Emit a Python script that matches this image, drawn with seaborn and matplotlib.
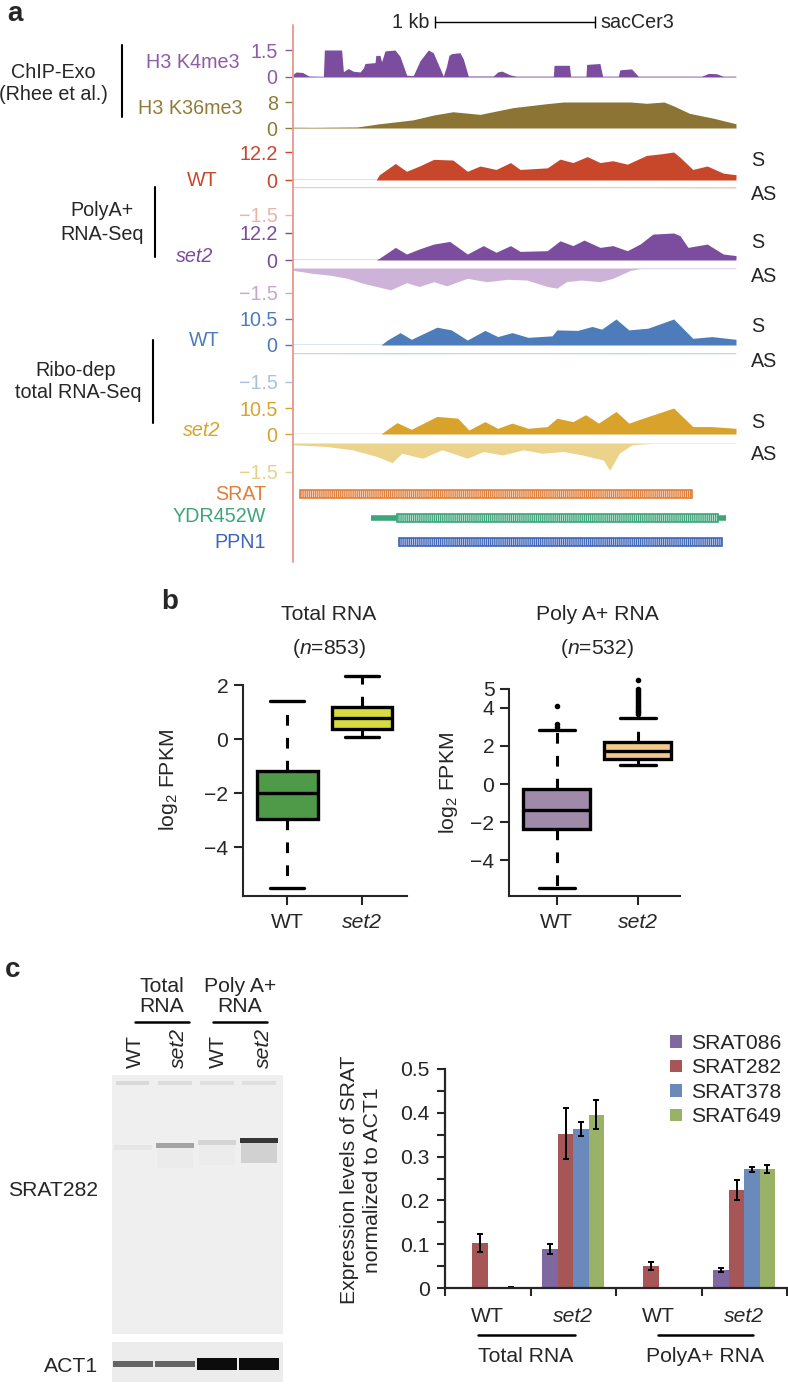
import numpy as np
import pandas as pd
import matplotlib
matplotlib.use("Agg")
import matplotlib.pyplot as plt
import seaborn as sns
from matplotlib.lines import Line2D

W, H = 788, 1385

# ---------------- panel a: browser tracks, (position kb, signal) ----------------
TRACK_KB = 2.77
SCALE_START_KB = 0.89

k4me3 = [(0.00, 0.15), (0.02, 0.28), (0.06, 0.25), (0.10, 0.05), (0.19, 0.03), (0.196, 1.5),
         (0.304, 1.5), (0.315, 0.3), (0.346, 0.47), (0.377, 0.32), (0.419, 0.28), (0.44, 0.5),
         (0.45, 0.75), (0.513, 0.8), (0.518, 1.2), (0.544, 1.2), (0.554, 0.85), (0.575, 1.45),
         (0.638, 1.5), (0.669, 1.15), (0.711, 0.1), (0.752, 0.08), (0.794, 0.9), (0.846, 1.5),
         (0.877, 1.35), (0.94, 0.05), (0.96, 0.6), (0.975, 1.2), (0.992, 1.3), (1.044, 1.35),
         (1.065, 1.0), (1.096, 0.05), (1.252, 0.05), (1.28, 0.28), (1.305, 0.33), (1.357, 0.12),
         (1.398, 0.04), (1.628, 0.04), (1.632, 0.65), (1.728, 0.65), (1.736, 0.04), (1.832, 0.04),
         (1.836, 0.7), (1.919, 0.75), (1.936, 0.04), (2.034, 0.04), (2.044, 0.4), (2.117, 0.45),
         (2.159, 0.04), (2.555, 0.04), (2.597, 0.2), (2.649, 0.18), (2.69, 0.04), (2.77, 0.04)]

k36me3 = [(0.00, 0.2), (0.13, 0.15), (0.40, 0.3), (0.54, 1.3), (0.75, 2.5), (0.88, 4.0),
          (1.00, 5.0), (1.17, 4.2), (1.38, 6.3), (1.59, 7.5), (1.69, 8.0), (2.11, 8.0),
          (2.21, 7.6), (2.32, 8.0), (2.38, 6.8), (2.48, 4.5), (2.63, 3.0), (2.77, 1.3)]

wt_polya_s = [(0.00, 0), (0.52, 0), (0.54, 2.3), (0.64, 7.2), (0.71, 3.8), (0.79, 6.1), (0.88, 9.0),
              (1.00, 8.7), (1.09, 3.8), (1.17, 6.1), (1.21, 5.5), (1.27, 4.6), (1.36, 7.6),
              (1.42, 4.6), (1.59, 5.3), (1.67, 9.1), (1.75, 7.6), (1.84, 10.2), (1.92, 7.6),
              (2.00, 8.4), (2.09, 6.9), (2.21, 10.7), (2.30, 11.4), (2.38, 12.2), (2.42, 9.9),
              (2.50, 4.6), (2.59, 6.1), (2.69, 3.0), (2.77, 2.3)]
wt_polya_as = [(0.00, -0.02), (0.60, -0.03), (1.20, -0.02), (2.00, -0.03), (2.77, -0.05)]

set2_polya_s = [(0.00, 0), (0.52, 0), (0.54, 0.8), (0.64, 5.7), (0.71, 2.7), (0.79, 5.0), (0.88, 7.2),
                (0.98, 8.4), (1.09, 2.7), (1.19, 6.5), (1.27, 3.5), (1.36, 6.5), (1.42, 3.9),
                (1.59, 4.2), (1.67, 8.7), (1.75, 6.5), (1.82, 9.0), (1.92, 5.7), (2.00, 6.5),
                (2.09, 4.2), (2.17, 7.2), (2.25, 11.7), (2.38, 12.2), (2.42, 11.0), (2.47, 5.7),
                (2.59, 7.2), (2.69, 2.7), (2.77, 2.0)]
set2_polya_as = [(0.00, -0.14), (0.13, -0.33), (0.23, -0.43), (0.34, -0.62), (0.44, -0.92),
                 (0.61, -1.31), (0.71, -0.88), (0.79, -1.11), (0.88, -0.82), (0.96, -1.07),
                 (1.09, -0.62), (1.21, -0.82), (1.34, -0.68), (1.46, -0.72), (1.59, -1.11),
                 (1.65, -1.21), (1.71, -0.82), (1.80, -0.72), (1.92, -0.82), (2.00, -0.62),
                 (2.11, -0.14), (2.17, -0.04), (2.77, -0.04)]

wt_ribo_s = [(0.00, 0), (0.55, 0), (0.59, 2.0), (0.67, 5.0), (0.74, 2.3), (0.90, 7.2), (0.99, 6.1),
             (1.09, 2.0), (1.20, 5.9), (1.28, 3.4), (1.37, 5.0), (1.47, 3.1), (1.62, 3.7),
             (1.65, 6.1), (1.78, 5.9), (1.87, 7.5), (1.93, 6.4), (2.02, 10.5), (2.10, 6.1),
             (2.22, 6.8), (2.38, 10.5), (2.50, 2.7), (2.62, 3.4), (2.77, 2.3)]
wt_ribo_as = [(0.00, -0.02), (0.65, -0.04), (1.30, -0.02), (2.05, -0.04), (2.77, -0.03)]

set2_ribo_s = [(0.00, 0), (0.55, 0), (0.65, 4.6), (0.74, 1.9), (0.90, 7.1), (1.03, 6.4), (1.10, 1.6),
               (1.20, 5.0), (1.28, 2.3), (1.37, 4.4), (1.47, 2.3), (1.59, 3.0), (1.65, 6.4),
               (1.75, 5.0), (1.83, 7.8), (1.91, 4.4), (2.02, 9.1), (2.10, 4.4), (2.19, 6.4),
               (2.38, 10.5), (2.50, 3.0), (2.62, 3.0), (2.77, 2.3)]
set2_ribo_as = [(0.00, -0.09), (0.21, -0.18), (0.37, -0.35), (0.53, -0.71), (0.62, -1.02),
                (0.68, -0.53), (0.81, -0.79), (0.93, -0.35), (1.00, -0.53), (1.09, -0.79),
                (1.19, -0.44), (1.31, -0.62), (1.44, -0.35), (1.56, -0.53), (1.69, -0.44),
                (1.81, -0.62), (1.94, -0.88), (1.98, -1.41), (2.04, -0.53), (2.12, -0.09),
                (2.24, -0.02), (2.77, -0.02)]

gene_names = ["SRAT", "YDR452W", "PPN1"]
gene_start = [0.044, 0.65, 0.66]
gene_end = [2.495, 2.66, 2.68]
utr_start = [None, 0.49, None]
utr_end = [None, 2.71, None]

# ---------------- panel b: box statistics ----------------
box_groups = ["WT", "set2"]
total_q1 = [-2.97, 0.39]
total_med = [-2.01, 0.79]
total_q3 = [-1.19, 1.20]
total_lo = [-5.53, 0.09]
total_hi = [1.41, 2.33]
polya_q1 = [-2.36, 1.31]
polya_med = [-1.36, 1.74]
polya_q3 = [-0.26, 2.21]
polya_lo = [-5.45, 0.99]
polya_hi = [2.83, 3.47]
polya_fliers = [[3.0, 3.14, 4.1],
                [3.65, 3.75, 3.85, 3.95, 4.05, 4.15, 4.25, 4.35, 4.45, 4.55, 4.65, 4.75, 4.85, 4.95, 5.45]]

# ---------------- panel c: northern blot + qPCR ----------------
lane_names = ["WT", "set2", "WT", "set2"]
well_level = [0.14, 0.12, 0.10, 0.10]
srat_band_pos = [72, 70, 67, 65]
srat_level = [0.06, 0.38, 0.16, 0.8]
smear_level = [0.0, 0.03, 0.02, 0.18]
act1_level = [0.62, 0.62, 0.95, 0.95]
act1_thick = [6, 6, 12, 12]

conditions = ["WT total", "set2 total", "WT polyA", "set2 polyA"]
cond_labels = ["WT", "set2", "WT", "set2"]
probes = ["SRAT086", "SRAT282", "SRAT378", "SRAT649"]
srat086 = [0.0, 0.089, 0.0, 0.041]
srat282 = [0.103, 0.352, 0.050, 0.224]
srat378 = [0.0, 0.363, 0.0, 0.271]
srat649 = [0.002, 0.396, 0.0, 0.271]
err086 = [0.0, 0.011, 0.0, 0.005]
err282 = [0.020, 0.058, 0.010, 0.023]
err378 = [0.0, 0.015, 0.0, 0.006]
err649 = [0.001, 0.034, 0.0, 0.009]

sns.set_style("ticks")
plt.rcParams["font.family"] = ["Liberation Sans", "DejaVu Sans"]
plt.rcParams["mathtext.fontset"] = "custom"
plt.rcParams["mathtext.rm"] = "Liberation Sans"
plt.rcParams["mathtext.it"] = "Liberation Sans:italic"
plt.rcParams["hatch.linewidth"] = 0.8

fig = plt.figure(figsize=(W / 100, H / 100), dpi=100)


def px_axes(x0, y0, x1, y1):
    return fig.add_axes([x0 / W, 1 - y1 / H, (x1 - x0) / W, (y1 - y0) / H])


def ftext(x, y, s, **kw):
    kw.setdefault("va", "center")
    return fig.text(x / W, 1 - y / H, s, **kw)


def fline(xs, ys, **kw):
    fig.add_artist(Line2D([x / W for x in xs], [1 - y / H for y in ys], **kw))


def tint(c, f):
    r, g, b = matplotlib.colors.to_rgb(c)
    return (1 - f * (1 - r), 1 - f * (1 - g), 1 - f * (1 - b))


TX0, TX1 = 293, 736
FS_A = 14.2


def track(y0, y1, pts, lim, color, ticks, labels, tick_color, line=True):
    ax = px_axes(TX0, y0, TX1, y1)
    x, v = zip(*pts)
    ax.fill_between(x, 0, v, color=color, lw=0)
    if line:
        ax.axhline(0, color=color, lw=1)
    ax.set_xlim(0, TRACK_KB)
    ax.set_ylim(*lim)
    ax.set_xticks([])
    ax.set_yticks(ticks, labels)
    ax.tick_params(axis="y", length=6, width=1, colors=tick_color, pad=5, labelsize=FS_A)
    for s in ax.spines.values():
        s.set_visible(False)
    ax.patch.set_alpha(0)
    return ax


PURPLE = "#7c4c9e"
OLIVE = "#8c7434"
RED = "#c8472b"
BLUE = "#4d7cba"
GOLD = "#d9a32b"

track(50, 77, k4me3, (0, 1.5), PURPLE, [0, 1.5], ["0", "1.5"], "#8e5ba9")
track(102, 128, k36me3, (0, 8), OLIVE, [0, 8], ["0", "8"], "#927b38")
track(152, 180, wt_polya_s, (0, 12.2), RED, [0, 12.2], ["0", "12.2"], RED)
track(187, 215, wt_polya_as, (-1.5, 0), "#f0c9c0", [-1.5], ["\u22121.5"], "#e8b5a8")
track(233, 260, set2_polya_s, (0, 12.2), PURPLE, [0, 12.2], ["0", "12.2"], PURPLE)
track(268, 293, set2_polya_as, (-1.5, 0), "#cdb3d8", [-1.5], ["\u22121.5"], "#c4a6cf", line=False)
track(319, 345, wt_ribo_s, (0, 10.5), BLUE, [0, 10.5], ["0", "10.5"], BLUE)
track(353, 382, wt_ribo_as, (-1.5, 0), "#c4d5ec", [-1.5], ["\u22121.5"], "#a9c1e0")
track(408, 434, set2_ribo_s, (0, 10.5), GOLD, [0, 10.5], ["0", "10.5"], GOLD)
track(443, 472, set2_ribo_as, (-1.5, 0), "#ebd38c", [-1.5], ["\u22121.5"], "#e8cf8a", line=False)

# genes
axg = px_axes(TX0, 482, TX1, 554)
gene_colors = ["#e07f3a", "#3da57a", "#3f64b8"]
ypos = np.arange(len(gene_names))
axg.barh(ypos, np.array(gene_end) - np.array(gene_start), left=gene_start, height=0.3,
         color=[tint(c, 0.35) for c in gene_colors], edgecolor=gene_colors,
         hatch="||||||||", lw=1.2)
for i in range(len(gene_names)):
    if utr_start[i] is not None:
        axg.plot([utr_start[i], gene_start[i]], [i, i], color=gene_colors[i], lw=4, solid_capstyle="butt")
        axg.plot([gene_end[i], utr_end[i]], [i, i], color=gene_colors[i], lw=4, solid_capstyle="butt")
axg.set_xlim(0, TRACK_KB)
axg.set_ylim(2.5, -0.5)
axg.axis("off")

# scale bar
axs = px_axes(TX0, 10, TX1, 34)
axs.set_xlim(0, TRACK_KB)
axs.set_ylim(0, 1)
axs.axis("off")
axs.plot([SCALE_START_KB, SCALE_START_KB + 1.0], [0.5, 0.5], color="k", lw=1,
         marker="|", ms=8, mew=1)
axs.text(SCALE_START_KB - 0.04, 0.5, "1 kb", ha="right", va="center", fontsize=FS_A)
axs.text(SCALE_START_KB + 1.03, 0.5, "sacCer3", ha="left", va="center", fontsize=FS_A)

fline([293, 293], [25, 562], color="#e9968c", lw=1.3)

ftext(7, 14, "a", fontsize=20, fontweight="bold", ha="left")
ftext(53, 72, "ChIP-Exo", ha="center", fontsize=FS_A)
ftext(53, 95, "(Rhee et al.)", ha="center", fontsize=FS_A)
fline([122, 122], [45, 117], color="k", lw=1.5)
ftext(240, 62, "H3 K4me3", ha="right", color="#8e5ba9", fontsize=FS_A)
ftext(243, 108, "H3 K36me3", ha="right", color="#927b38", fontsize=FS_A)
ftext(218, 181, "WT", ha="right", color=RED, fontsize=FS_A)
ftext(102, 210, "PolyA+", ha="center", fontsize=FS_A)
ftext(102, 235, "RNA-Seq", ha="center", fontsize=FS_A)
fline([155, 155], [187, 257], color="k", lw=1.5)
ftext(213, 257, "set2", ha="right", color=PURPLE, style="italic", fontsize=FS_A)
ftext(220, 340, "WT", ha="right", color=BLUE, fontsize=FS_A)
ftext(76, 370, "Ribo-dep", ha="center", fontsize=FS_A)
ftext(78, 393, "total RNA-Seq", ha="center", fontsize=FS_A)
fline([153, 153], [340, 423], color="k", lw=1.5)
ftext(220, 430, "set2", ha="right", color=GOLD, style="italic", fontsize=FS_A)
for nm, yy, c in zip(gene_names, [494, 517, 542], gene_colors):
    ftext(266, yy, nm, ha="right", color=c, fontsize=FS_A)
for lab, yy in zip(["S", "AS", "S", "AS", "S", "AS", "S", "AS"],
                   [160, 195, 243, 277, 327, 362, 422, 454]):
    ftext(751, yy, lab, ha="left", fontsize=FS_A)

# ---------------- panel b ----------------
FS_B = 15.2


def box_panel(ax, q1, med, q3, lo, hi, fliers, colors, width):
    stats = [dict(q1=a, med=b, q3=c, whislo=d, whishi=e, fliers=f)
             for a, b, c, d, e, f in zip(q1, med, q3, lo, hi, fliers)]
    art = ax.bxp(stats, positions=[1, 2], widths=width, capwidths=0.45, patch_artist=True,
                 boxprops=dict(lw=2.4, edgecolor="k"),
                 whiskerprops=dict(lw=2.2, color="k", linestyle=(0, (3.5, 4))),
                 capprops=dict(lw=2.4, color="k"),
                 medianprops=dict(lw=2.4, color="k"),
                 flierprops=dict(marker="o", ms=3, mfc="k", mec="k"),
                 manage_ticks=False)
    for p, c in zip(art["boxes"], colors):
        p.set_facecolor(c)
    ax.set_xticks([1, 2], box_groups)
    for lab in ax.get_xticklabels():
        if lab.get_text() == "set2":
            lab.set_style("italic")
    ax.tick_params(length=6.5, width=1.5, labelsize=FS_B, pad=4)
    ax.tick_params(axis="x", pad=6)
    sns.despine(ax=ax)
    for s in ["left", "bottom"]:
        ax.spines[s].set_linewidth(1.5)
    ax.patch.set_alpha(0)


ax1 = px_axes(243, 660, 407, 896)
box_panel(ax1, total_q1, total_med, total_q3, total_lo, total_hi, [[], []],
          ["#4e9a48", "#d7db3f"], 0.81)
ax1.set_xlim(0.41, 2.6)
ax1.set_ylim(-5.81, 2.93)
ax1.set_yticks([-4, -2, 0, 2], ["\u22124", "\u22122", "0", "2"])
ax1.spines["left"].set_bounds(-5.81, 2)

ax2 = px_axes(509, 670, 680, 896)
box_panel(ax2, polya_q1, polya_med, polya_q3, polya_lo, polya_hi, polya_fliers,
          ["#a08aaa", "#f2c98a"], 0.83)
ax2.set_xlim(0.41, 2.52)
ax2.set_ylim(-5.86, 5.97)
ax2.set_yticks([-4, -2, 0, 2, 4, 5], ["\u22124", "\u22122", "0", "2", "4", "5"])
ax2.spines["left"].set_bounds(-5.86, 5)

ftext(161, 602, "b", fontsize=20, fontweight="bold", ha="left")
ftext(329, 614, "Total RNA", ha="center", fontsize=FS_B)
ftext(329, 648, r"($\mathit{n}$=853)", ha="center", fontsize=FS_B)
ftext(597, 614, "Poly A+ RNA", ha="center", fontsize=FS_B)
ftext(597, 648, r"($\mathit{n}$=532)", ha="center", fontsize=FS_B)
ftext(169, 780, r"log$_\mathrm{2}$ FPKM", ha="center", rotation=90, fontsize=FS_B)
ftext(449, 783, r"log$_\mathrm{2}$ FPKM", ha="center", rotation=90, fontsize=FS_B)

# ---------------- panel c: blot ----------------
lanes = np.arange(len(lane_names))
grey = plt.cm.Greys
BG = 0.13
axb = px_axes(112, 1075, 283, 1334)
axb.set_facecolor(grey(BG))
axb.bar(lanes, 4, bottom=6, width=0.8, lw=0,
        color=[grey(BG + (1 - BG) * v) for v in well_level])
axb.bar(lanes, 5, bottom=np.array(srat_band_pos) - 2.5, width=0.9, lw=0,
        color=[grey(BG + (1 - BG) * v) for v in srat_level])
axb.bar(lanes, 20, bottom=np.array(srat_band_pos) + 2.5, width=0.85, lw=0,
        color=[grey(BG + (1 - BG) * v) for v in smear_level])
axb.set_xlim(-0.49, 3.57)
axb.set_ylim(259, 0)
axb.set_xticks([])
axb.set_yticks([])
for s in axb.spines.values():
    s.set_visible(False)

axa = px_axes(112, 1342, 283, 1382)
axa.set_facecolor(grey(0.15))
axa.bar(lanes, act1_thick, bottom=22 - np.array(act1_thick) / 2, width=0.95, lw=0,
        color=[grey(0.15 + 0.85 * v) for v in act1_level])
axa.set_xlim(-0.49, 3.57)
axa.set_ylim(40, 0)
axa.set_xticks([])
axa.set_yticks([])
for s in axa.spines.values():
    s.set_visible(False)

ftext(5, 970, "c", fontsize=20, fontweight="bold", ha="left")
ftext(162, 987, "Total", ha="center", fontsize=FS_B)
ftext(162, 1007, "RNA", ha="center", fontsize=FS_B)
ftext(240, 987, "Poly A+", ha="center", fontsize=FS_B)
ftext(240, 1007, "RNA", ha="center", fontsize=FS_B)
fline([135, 189], [1022, 1022], color="k", lw=1.8)
fline([213, 267], [1022, 1022], color="k", lw=1.8)
for xx, nm in zip([135, 178, 218, 263], lane_names):
    ftext(xx, 1068, nm, ha="center", va="bottom", rotation=90, fontsize=FS_B,
          style="italic" if nm == "set2" else "normal")
ftext(98, 1190, "SRAT282", ha="right", fontsize=FS_B)
ftext(98, 1367, "ACT1", ha="right", fontsize=FS_B)

# ---------------- panel c: bars ----------------
rows = []
for probe, vals, errs in zip(probes, [srat086, srat282, srat378, srat649],
                             [err086, err282, err378, err649]):
    for cond, v, e in zip(conditions, vals, errs):
        rows.append({"condition": cond, "probe": probe, "value": v, "err": e})
bar_df = pd.DataFrame(rows)

probe_colors = ["#7e5fa8", "#b5484a", "#5b88c9", "#9dbf5a"]
axc = px_axes(445, 1069, 787, 1288)
sns.barplot(data=bar_df, x="condition", y="value", hue="probe", order=conditions,
            hue_order=probes, palette=probe_colors, width=0.725, errorbar=None,
            linewidth=0, ax=axc)
for cont, probe in zip(axc.containers, probes):
    sub = bar_df[bar_df.probe == probe].set_index("condition").loc[conditions]
    for bar, v, e in zip(cont, sub["value"], sub["err"]):
        if e > 0:
            axc.errorbar(bar.get_x() + bar.get_width() / 2, v, yerr=e, fmt="none",
                         ecolor="k", elinewidth=1.4, capsize=2.5, capthick=1.4)
axc.set_xlim(-0.5, 3.5)
axc.set_ylim(0, 0.5)
axc.set_yticks(np.arange(0, 0.51, 0.1), ["0", "0.1", "0.2", "0.3", "0.4", "0.5"])
axc.set_yticks(np.arange(0.05, 0.5, 0.1), minor=True)
axc.set_xticks(range(len(conditions)), cond_labels)
axc.set_xticks(np.arange(-0.5, 3.6, 1.0), minor=True)
for lab in axc.get_xticklabels():
    if lab.get_text() == "set2":
        lab.set_style("italic")
axc.tick_params(axis="y", which="both", length=6, width=1.5, labelsize=FS_B, pad=5)
axc.tick_params(axis="x", which="major", length=0, labelsize=FS_B, pad=14)
axc.tick_params(axis="x", which="minor", length=6, width=1.5)
axc.set_xlabel("")
axc.set_ylabel("")
sns.despine(ax=axc)
for s in ["left", "bottom"]:
    axc.spines[s].set_linewidth(1.6)
axc.patch.set_alpha(0)

handles, labels = axc.get_legend_handles_labels()
axc.legend(handles, labels, loc="upper left", bbox_to_anchor=(670 / W, 1 - 1034 / H),
           bbox_transform=fig.transFigure, frameon=False, fontsize=FS_B,
           handlelength=0.55, handleheight=0.55, handletextpad=0.45, labelspacing=0.26,
           borderpad=0, borderaxespad=0)

ftext(361, 1180, "Expression levels of SRAT\nnormalized to ACT1", ha="center",
      rotation=90, fontsize=FS_B, linespacing=1.25)
fline([478, 575], [1335, 1335], color="k", lw=1.8)
fline([658, 753], [1335, 1335], color="k", lw=1.8)
ftext(526, 1357, "Total RNA", ha="center", fontsize=FS_B)
ftext(705, 1357, "PolyA+ RNA", ha="center", fontsize=FS_B)

fig.savefig("out.png", dpi=100)
